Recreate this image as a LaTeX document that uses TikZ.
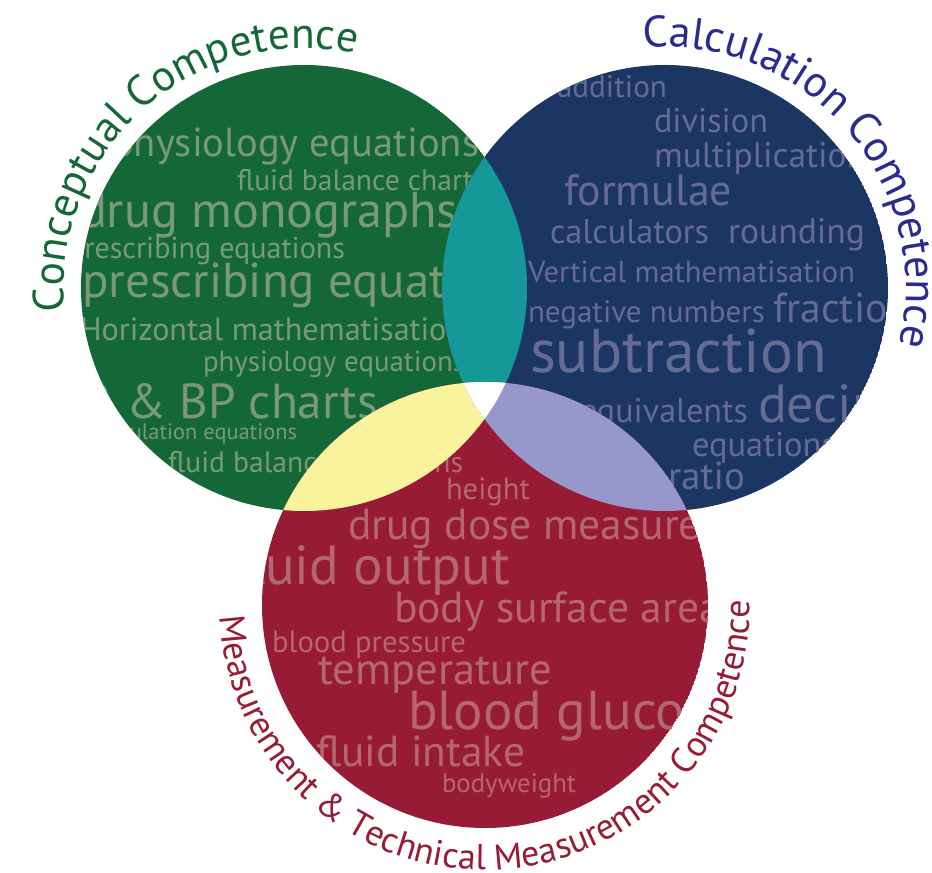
\documentclass[tikz,border=0pt]{standalone}
\usepackage{graphicx}
\usepackage{fontspec}
\setmainfont{PT Sans}
\usetikzlibrary{decorations.text}
\definecolor{cgreen}{HTML}{146838}
\definecolor{cnavy}{HTML}{1C3664}
\definecolor{ccrim}{HTML}{981B36}
\definecolor{cteal}{HTML}{169898}
\definecolor{cyel}{HTML}{F8F39C}
\definecolor{clav}{HTML}{9797CC}
\definecolor{wgreen}{HTML}{7A9A76}
\definecolor{wnavy}{HTML}{666B93}
\definecolor{wcrim}{HTML}{B5676E}
\definecolor{lgreen}{HTML}{146838}
\definecolor{lnavy}{HTML}{2A2A92}
\definecolor{lcrim}{HTML}{981B36}
\newcommand{\wrd}[5]{\node[word] (#1) at (#2,#3) {\resizebox{#4pt}{!}{#5}};}
\newcommand{\lblfontA}{\fontsize{43.5}{43.5}\selectfont}
\newcommand{\lblfontB}{\fontsize{44}{44}\selectfont}
\newcommand{\lblfontC}{\fontsize{36}{36}\selectfont}
\tikzset{
  word/.style={anchor=base west, inner sep=0pt, outer sep=0pt, font=\fontsize{40}{40}\selectfont},
  venn/.style={radius=223pt},
}
\begin{document}
\begin{tikzpicture}[x=1pt,y=1pt]
\useasboundingbox (0,0) rectangle (932,873);
\coordinate (cg) at (304,585);
\coordinate (cn) at (665,585);
\coordinate (cc) at (485,268);
% green circle
\begin{scope}
  \clip (cg) circle[venn];
  \fill[cgreen] (cg) circle[venn];
  \begin{scope}[word/.append style={text=wgreen}]
    \wrd{g1}{112}{716}{367}{physiology equations}
    \wrd{g2}{237}{682}{236}{fluid balance chart}
    \wrd{g3}{80}{645}{378}{drug monographs}
    \wrd{g4}{68}{614}{277}{prescribing equations}
    \wrd{g5}{82}{575}{451}{prescribing equations}
    \wrd{g6}{80}{532}{384}{Horizontal mathematisation}
    \wrd{g7}{203}{501}{262}{physiology equations}
    \wrd{g8}{29}{454}{349}{TPR \& BP charts}
    \wrd{g9}{92}{433}{205}{calculation equations}
    \wrd{g10}{168}{400}{295}{fluid balance equations}
  \end{scope}
\end{scope}
% navy circle
\begin{scope}
  \clip (cn) circle[venn];
  \fill[cnavy] (cn) circle[venn];
  \begin{scope}[word/.append style={text=wnavy}]
    \wrd{n1}{557}{775}{110}{addition}
    \wrd{n2}{654}{740}{114}{division}
    \wrd{n3}{654}{705}{212}{multiplication}
    \wrd{n4}{564}{667}{168}{formulae}
    \wrd{n5}{550}{629}{159}{calculators}
    \wrd{n6}{728}{629}{137}{rounding}
    \wrd{n7}{528}{590}{327}{Vertical mathematisation}
    \wrd{n8}{528}{550}{237}{negative numbers}
    \wrd{n9}{773}{550}{155}{fractions}
    \wrd{n10}{530}{500}{297}{subtraction}
    \wrd{n11}{580}{450}{168}{equivalents}
    \wrd{n12}{758}{450}{203}{decimals}
    \wrd{n13}{692}{416}{144}{equations}
    \wrd{n14}{668}{383}{77}{ratio}
  \end{scope}
\end{scope}
% crimson circle
\begin{scope}
  \clip (cc) circle[venn];
  \fill[ccrim] (cc) circle[venn];
  \begin{scope}[word/.append style={text=wcrim}]
    \wrd{c0}{168}{400}{295}{fluid balance equations}
    \wrd{c1}{446}{373}{84}{height}
    \wrd{c2}{348}{333}{449}{drug dose measurement}
    \wrd{c3}{233}{288}{277}{fluid output}
    \wrd{c4}{394}{250}{327}{body surface area}
    \wrd{c5}{272}{220}{194}{blood pressure}
    \wrd{c6}{318}{188}{234}{temperature}
    \wrd{c7}{408}{143}{328}{blood glucose}
    \wrd{c8}{316}{106}{209}{fluid intake}
    \wrd{c9}{442}{80}{134}{bodyweight}
  \end{scope}
\end{scope}
% overlaps
\begin{scope}
  \clip (cg) circle[venn];
  \fill[cteal] (cn) circle[venn];
\end{scope}
\begin{scope}
  \clip (cg) circle[venn];
  \fill[cyel] (cc) circle[venn];
\end{scope}
\begin{scope}
  \clip (cn) circle[venn];
  \fill[clav] (cc) circle[venn];
\end{scope}
\begin{scope}
  \clip (cg) circle[venn];
  \clip (cn) circle[venn];
  \fill[white] (cc) circle[venn];
\end{scope}
% curved labels
\path[decorate, decoration={text along path, text align=center, text color=lgreen,
  text={|\lblfontA|Conceptual Competence}}]
  ([shift={(201.5:240pt)}]cg) arc[start angle=201.5, end angle=61.5, radius=240pt];
\path[decorate, decoration={text along path, text align=center, text color=lnavy,
  text={|\lblfontB|Calculation Competence}}]
  ([shift={(110.7:241pt)}]cn) arc[start angle=110.7, end angle=-29.3, radius=241pt];
\path[decorate, decoration={text along path, text align=center, text color=lcrim,
  text={|\lblfontC|Measurement {\&} Technical Measurement Competence}}]
  ([shift={(170:265pt)}]cc) arc[start angle=170, end angle=373.4, radius=265pt];
\end{tikzpicture}
\end{document}
